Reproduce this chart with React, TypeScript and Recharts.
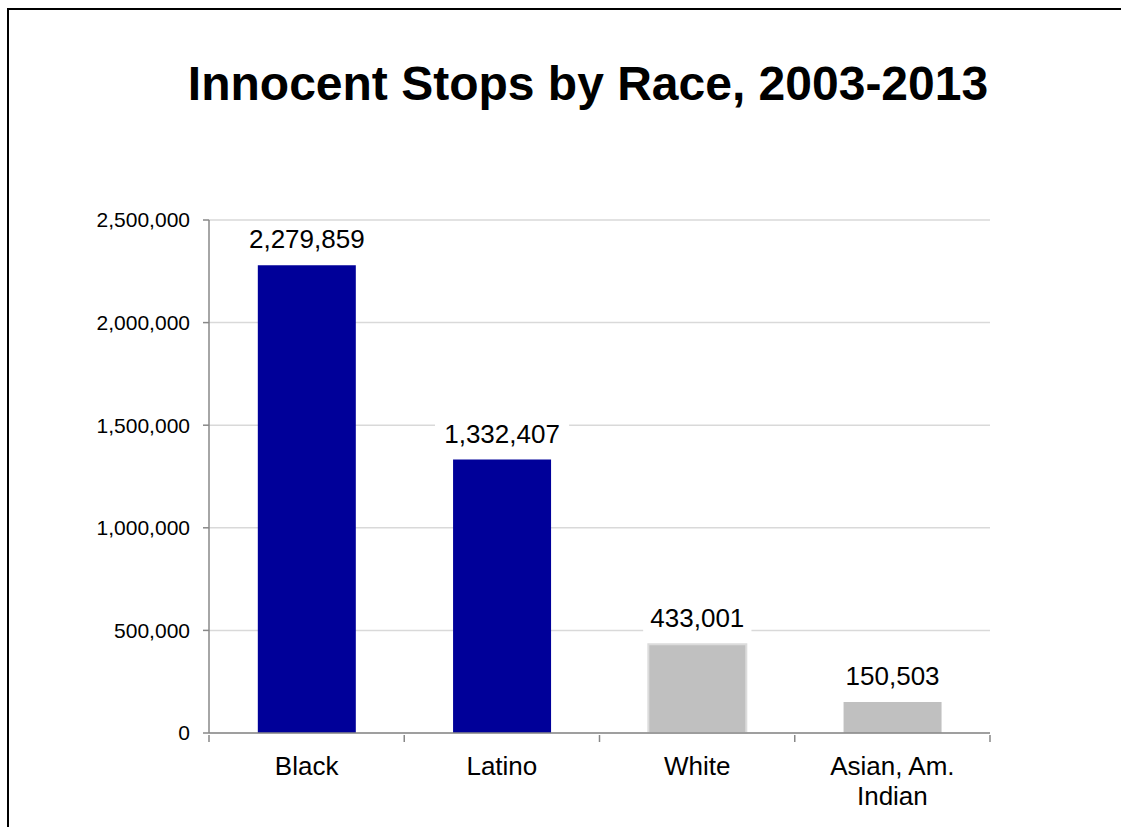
import React from 'react';
import { BarChart, Bar, XAxis, YAxis, CartesianGrid, Cell, LabelList } from 'recharts';

const categories = ['Black', 'Latino', 'White', 'Asian, Am. Indian'];
const stops = [2279859, 1332407, 433001, 150503];
const barColors = ['#000099', '#000099', '#c0c0c0', '#c0c0c0'];
const yTicks = [0, 500000, 1000000, 1500000, 2000000, 2500000];

const data = categories.map((name, i) => ({ name, value: stops[i] }));

const FONT = '"Liberation Sans", Arial, sans-serif';
const PLOT_LEFT = 209;
const PLOT_RIGHT = 990;
const BAND = (PLOT_RIGHT - PLOT_LEFT) / categories.length;

const fmt = (v: number) => v.toLocaleString('en-US');

function XTick(props: any) {
  const { x, y, payload, index } = props;
  const label: string = payload.value;
  const lines = label === 'Asian, Am. Indian' ? ['Asian, Am.', 'Indian'] : [label];
  const top = y - 6;
  return (
    <g>
      <line x1={x - BAND / 2} y1={top} x2={x - BAND / 2} y2={top + 7} stroke="#888" strokeWidth={1.5} />
      {index === categories.length - 1 && (
        <line x1={x + BAND / 2} y1={top} x2={x + BAND / 2} y2={top + 7} stroke="#888" strokeWidth={1.5} />
      )}
      {lines.map((l, i) => (
        <text key={i} x={x} y={top + 40 + i * 30} textAnchor="middle" fontSize={26} fontFamily={FONT} fill="#000">
          {l}
        </text>
      ))}
    </g>
  );
}

function ValueLabel(props: any) {
  const { x, y, width, value } = props;
  const cx = x + width / 2;
  const text = fmt(value);
  const w = text.length * 12.9 + 18;
  return (
    <g>
      <rect x={cx - w / 2} y={y - 44} width={w} height={36} fill="#fff" />
      <text x={cx} y={y - 17} textAnchor="middle" fontSize={26} fontFamily={FONT} fill="#000">
        {text}
      </text>
    </g>
  );
}

export default function App() {
  return (
    <div style={{ position: 'absolute', left: 0, top: 0, width: 1121, height: 827, background: '#fff', fontFamily: FONT }}>
      <div style={{ position: 'absolute', left: 7, top: 8, width: 1114, height: 2, background: '#000' }} />
      <div style={{ position: 'absolute', left: 7, top: 8, width: 2, height: 819, background: '#000' }} />
      <div
        style={{
          position: 'absolute',
          left: 0,
          width: 1176,
          top: 56,
          textAlign: 'center',
          fontSize: 48,
          fontWeight: 'bold',
          color: '#000',
          whiteSpace: 'nowrap',
        }}
      >
        Innocent Stops by Race, 2003-2013
      </div>
      <div style={{ position: 'absolute', left: 0, top: 0 }}>
        <BarChart
          width={1121}
          height={827}
          data={data}
          margin={{ top: 220, right: 1121 - PLOT_RIGHT, bottom: 34, left: PLOT_LEFT - 150 }}
          barCategoryGap="25%"
        >
          <CartesianGrid horizontal vertical={false} stroke="#d9d9d9" strokeWidth={1.5} />
          <XAxis
            dataKey="name"
            height={60}
            stroke="#888"
            strokeWidth={1.5}
            tickLine={false}
            interval={0}
            tick={<XTick />}
          />
          <YAxis
            width={150}
            domain={[0, 2500000]}
            ticks={yTicks}
            stroke="#888"
            strokeWidth={1.5}
            tickSize={6}
            tickMargin={13}
            tickFormatter={fmt}
            tick={{ fill: '#000', fontSize: 21, fontFamily: FONT }}
          />
          <Bar dataKey="value" isAnimationActive={false}>
            {data.map((d, i) => (
              <Cell key={d.name} fill={barColors[i]} stroke={i === 2 ? '#dcdcdc' : 'none'} strokeWidth={2} />
            ))}
            <LabelList dataKey="value" content={<ValueLabel />} />
          </Bar>
        </BarChart>
      </div>
    </div>
  );
}
